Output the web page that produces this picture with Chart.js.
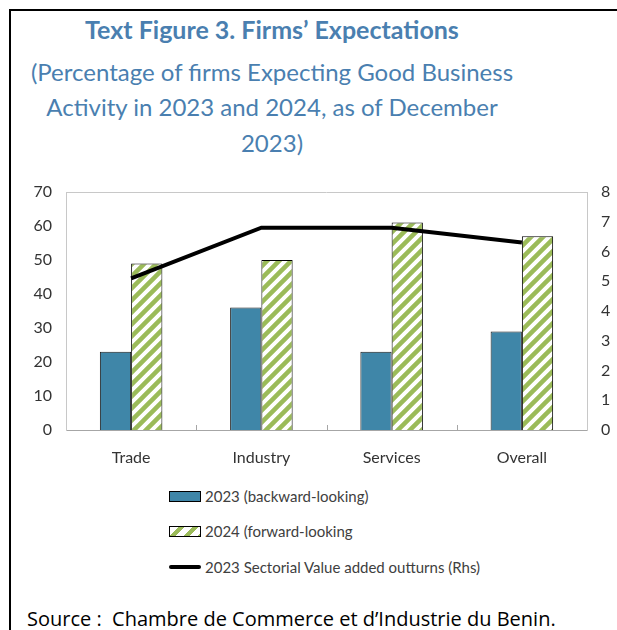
<!DOCTYPE html>
<html>
<head>
<meta charset="utf-8">
<script src="https://cdn.jsdelivr.net/npm/chart.js@4.4.1/dist/chart.umd.min.js"></script>
<style>
  html, body { margin: 0; padding: 0; background: #fff; }
  #page { position: relative; width: 617px; height: 630px; overflow: hidden; background: #fff; }
  #frame { position: absolute; left: 9px; top: 9px; width: 700px; height: 700px;
           border-left: 2px solid #000; border-top: 2px solid #000; }
  #chart { position: absolute; left: 0; top: 0; }
  .title { position: absolute; left: 0; width: 544px; text-align: center; color: #4a7fb0;
           font-family: Lato, "Open Sans", sans-serif; white-space: nowrap; }
  #t1 { top: 14px; font-size: 25px; font-weight: bold; }
  .sub { font-size: 24px; }
  #legend { position: absolute; left: 169px; top: 486px; font-family: Lato, sans-serif;
            font-size: 15px; color: #404040; }
  .row { position: absolute; left: 0; height: 20px; white-space: nowrap; }
  .sw { position: absolute; left: 0; top: 5px; width: 30px; height: 9px; box-sizing: content-box; }
  .lab { position: absolute; left: 36px; top: 0; line-height: 20px; }
  #source { position: absolute; left: 27px; top: 605px; font-family: "Open Sans", "Noto Sans", sans-serif;
            font-size: 20px; color: #000; white-space: nowrap; }
</style>
</head>
<body>
<div id="page">
  <div id="frame"></div>
  <div class="title" id="t1">Text Figure 3. Firms’ Expectations</div>
  <div class="title sub" style="top:57px">(Percentage of firms Expecting Good Business</div>
  <div class="title sub" style="top:92px">Activity in 2023 and 2024, as of December</div>
  <div class="title sub" style="top:128px">2023)</div>
  <canvas id="chart" width="617" height="470"></canvas>
  <div id="legend">
    <div class="row" style="top:0px"><div class="sw" style="background:#3f86a8;border:1px solid #000"></div><div class="lab">2023 (backward-looking)</div></div>
    <div class="row" style="top:35px"><div class="sw" style="border:1px solid #000;background:repeating-linear-gradient(135deg,#fff 0 6px,#9bbb59 6px 10px)"></div><div class="lab">2024 (forward-looking</div></div>
    <div class="row" style="top:71px"><div class="sw" style="top:8px;height:4px;border-radius:2px;background:#000;width:32px"></div><div class="lab">2023 Sectorial Value added outturns (Rhs)</div></div>
  </div>
  <div id="source">Source :&nbsp; Chambre de Commerce et d’Industrie du Benin.</div>
</div>
<script>
// Sectors on the category axis
const sectors = ['Trade', 'Industry', 'Services', 'Overall'];
// Share of firms expecting good business activity (%), left axis
const backward2023 = [23, 36, 23, 29];
const forward2024 = [49, 50, 61, 57];
// Sectorial value added outturns 2023 (%), right axis
const valueAdded2023 = [5.1, 6.8, 6.8, 6.3];
// Axis tick settings
const leftTicks = { min: 0, max: 70, step: 10 };
const rightTicks = { min: 0, max: 8, step: 1 };

const axisFont = { family: 'Lato, sans-serif', size: 16 };

// Green upward-diagonal hatch used for the 2024 bars
function makeHatch() {
  const s = 12;
  const c = document.createElement('canvas');
  c.width = s; c.height = s;
  const g = c.getContext('2d');
  g.fillStyle = '#ffffff';
  g.fillRect(0, 0, s, s);
  g.strokeStyle = '#9bbb59';
  g.lineWidth = 4.5;
  g.beginPath();
  for (let k = -1; k <= 1; k++) {
    g.moveTo(k * s - 2, s + 2);
    g.lineTo(k * s + s + 2, -2);
  }
  g.stroke();
  return g.createPattern(c, 'repeat');
}

// Plot-area outline on top and inner tick marks between categories
const plotFrame = {
  id: 'plotFrame',
  afterDatasetsDraw(chart) {
    const { ctx, chartArea: a, scales: { x } } = chart;
    ctx.save();
    ctx.strokeStyle = '#c8c8c8';
    ctx.lineWidth = 1;
    ctx.beginPath();
    ctx.moveTo(a.left, a.top + 0.5);
    ctx.lineTo(a.right, a.top + 0.5);
    ctx.stroke();
    ctx.strokeStyle = '#a6a6a6';
    ctx.beginPath();
    for (let i = 0; i < sectors.length - 1; i++) {
      const px = Math.round((x.getPixelForValue(i) + x.getPixelForValue(i + 1)) / 2) + 0.5;
      ctx.moveTo(px, a.bottom);
      ctx.lineTo(px, a.bottom - 5);
    }
    ctx.stroke();
    ctx.restore();
  }
};

new Chart(document.getElementById('chart'), {
  data: {
    labels: sectors,
    datasets: [
      {
        type: 'line',
        label: '2023 Sectorial Value added outturns (Rhs)',
        data: valueAdded2023,
        yAxisID: 'y1',
        borderColor: '#000',
        borderWidth: 4,
        pointRadius: 0,
        tension: 0,
        order: 0
      },
      {
        type: 'bar',
        label: '2023 (backward-looking)',
        data: backward2023,
        yAxisID: 'y',
        backgroundColor: '#3f86a8',
        borderColor: '#1a1a1a',
        borderWidth: 1,
        order: 1
      },
      {
        type: 'bar',
        label: '2024 (forward-looking',
        data: forward2024,
        yAxisID: 'y',
        backgroundColor: makeHatch(),
        borderColor: '#000',
        borderWidth: 1,
        order: 1
      }
    ]
  },
  options: {
    responsive: false,
    animation: false,
    devicePixelRatio: 1,
    layout: { padding: { top: 192, left: 0, right: 0, bottom: 0 } },
    datasets: { bar: { barPercentage: 1, categoryPercentage: 0.48 } },
    plugins: { legend: { display: false }, tooltip: { enabled: false } },
    scales: {
      x: {
        type: 'category',
        offset: true,
        grid: { display: false, drawTicks: false },
        border: { display: true, color: '#a6a6a6' },
        ticks: { color: '#333', font: axisFont, padding: 18 },
        afterFit(s) { s.height = 40; }
      },
      y: {
        position: 'left',
        min: leftTicks.min, max: leftTicks.max,
        grid: { display: false, drawTicks: false },
        border: { display: true, color: '#c8c8c8' },
        ticks: { stepSize: leftTicks.step, color: '#333', font: axisFont, padding: 14 },
        afterFit(s) { s.width = 66; }
      },
      y1: {
        position: 'right',
        min: rightTicks.min, max: rightTicks.max,
        grid: { display: false, drawTicks: false },
        border: { display: true, color: '#c8c8c8' },
        ticks: { stepSize: rightTicks.step, color: '#333', font: axisFont, padding: 14 },
        afterFit(s) { s.width = 30; }
      }
    }
  },
  plugins: [plotFrame]
});
</script>
</body>
</html>
